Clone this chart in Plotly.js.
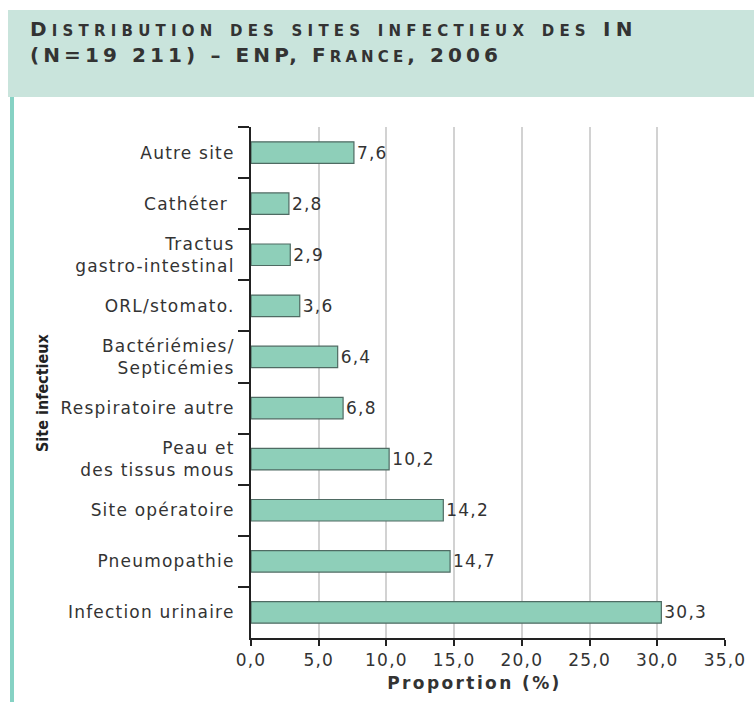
<!DOCTYPE html>
<html>
<head>
<meta charset="utf-8">
<script src="https://cdn.plot.ly/plotly-3.0.1.min.js"></script>
<style>
html,body{margin:0;padding:0;background:#fff;}
#chart{width:754px;height:702px;}
.ytick text, .xtick text, text.bartext { letter-spacing: 1.2px; }
.annotation[data-index="0"] text { letter-spacing: 4.6px; }
.annotation[data-index="0"] text > tspan.line:nth-child(1) { letter-spacing: 5.2px; }
.annotation[data-index="0"] text > tspan.line:nth-child(2) { letter-spacing: 4.1px; }
.annotation[data-index="2"] text { letter-spacing: 2.4px; }
</style>
</head>
<body>
<div id="chart"></div>
<script>
const categories = [
  "Autre site",
  "Cathéter ",
  "Tractus<br>gastro-intestinal",
  "ORL/stomato.",
  "Bactériémies/<br>Septicémies",
  "Respiratoire autre",
  "Peau et<br>des tissus mous",
  "Site opératoire",
  "Pneumopathie",
  "Infection urinaire"
];
const proportions = [7.6, 2.8, 2.9, 3.6, 6.4, 6.8, 10.2, 14.2, 14.7, 30.3];
const xTicks = [0, 5, 10, 15, 20, 25, 30, 35];

// small-caps runs rendered a little larger so they match the reference proportions
const sc = s => '<span style="font-size:21px">' + s + '</span>';
const titleText = "D" + sc("istribution des sites infectieux des") + " IN<br>(N=19 211) – ENP, F" + sc("rance") + ", 2006";
const yTitle = "Site infectieux";
const xTitle = "Proportion (%)";

// pixel -> paper helpers
const L = 251, R = 29, T = 127, B = 64, W = 754, H = 702;
const pw = W - L - R, ph = H - T - B;
const px = x => (x - L) / pw;
const py = y => (H - B - y) / ph;

const labelFont = {family: 'DejaVu Sans, sans-serif', size: 17, color: '#333'};

const trace = {
  type: 'bar',
  orientation: 'h',
  y: categories,
  x: proportions,
  marker: {color: '#8ecfb9', line: {color: '#4f6b63', width: 1.2}},
  texttemplate: '%{x:.1f}',
  textposition: 'outside',
  cliponaxis: false,
  textfont: labelFont,
  hoverinfo: 'none'
};

const layout = {
  width: W, height: H,
  margin: {l: L, r: R, t: T, b: B},
  paper_bgcolor: '#fff',
  plot_bgcolor: '#fff',
  separators: ', ',
  showlegend: false,
  bargap: 0.58,
  font: {family: 'DejaVu Sans, sans-serif', color: '#333'},
  xaxis: {
    range: [0, 35],
    tickvals: xTicks,
    tickformat: '.1f',
    showgrid: true,
    gridcolor: '#d2d2d2',
    gridwidth: 2,
    zeroline: false,
    showline: true,
    linecolor: '#222',
    linewidth: 2,
    ticks: 'outside',
    ticklen: 6,
    tickwidth: 2,
    tickcolor: '#222',
    tickfont: labelFont
  },
  yaxis: {
    autorange: 'reversed',
    type: 'category',
    showline: true,
    linecolor: '#222',
    linewidth: 2,
    ticks: 'outside',
    tickson: 'boundaries',
    ticklen: 11,
    tickwidth: 2,
    tickcolor: '#222',
    showgrid: false,
    ticklabelstandoff: 11,
    tickfont: labelFont
  },
  shapes: [
    {type: 'rect', xref: 'paper', yref: 'paper', layer: 'below',
     x0: px(8), x1: px(760), y0: py(97), y1: py(10),
     fillcolor: '#c9e4dc', line: {width: 0}},
    {type: 'line', xref: 'paper', yref: 'paper', layer: 'below',
     x0: px(12), x1: px(12), y0: py(97), y1: py(705),
     line: {color: '#86d2c4', width: 4}}
  ],
  annotations: [
    {xref: 'paper', yref: 'paper', x: px(28), y: py(15), xanchor: 'left', yanchor: 'top',
     align: 'left', showarrow: false, text: titleText,
     font: {family: 'DejaVu Sans, sans-serif', size: 20, color: '#333', variant: 'small-caps', weight: 700}},
    {xref: 'paper', yref: 'paper', x: px(42), y: py(393), xanchor: 'center', yanchor: 'middle',
     textangle: -90, showarrow: false, text: '<b>' + yTitle + '</b>',
     font: {family: 'DejaVu Sans Condensed, sans-serif', size: 16, color: '#222'}},
    {xref: 'paper', yref: 'paper', x: px(474), y: py(683), xanchor: 'center', yanchor: 'middle',
     showarrow: false, text: '<b>' + xTitle + '</b>',
     font: {family: 'DejaVu Sans, sans-serif', size: 17, color: '#333'}}
  ]
};

Plotly.newPlot('chart', [trace], layout, {displayModeBar: false, staticPlot: true});
</script>
</body>
</html>
